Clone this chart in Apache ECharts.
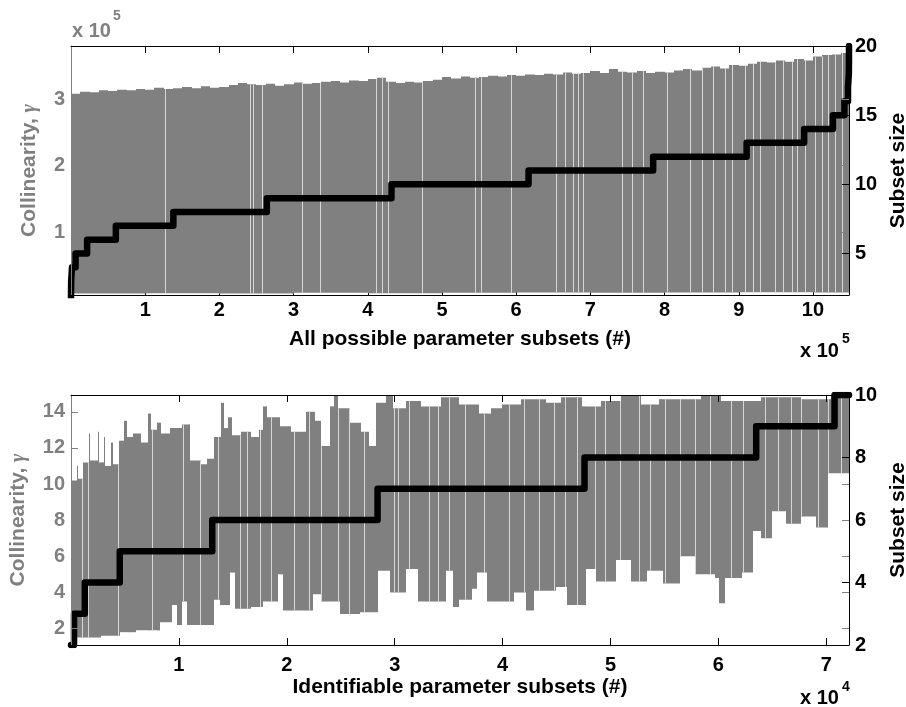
<!DOCTYPE html>
<html><head><meta charset="utf-8">
<script src="https://cdn.jsdelivr.net/npm/echarts@6/dist/echarts.min.js"></script>
<style>html,body{margin:0;padding:0;background:#fff}#c{width:906px;height:707px}</style>
</head><body><div id="c"></div><script>
// ---------------- DATA ----------------
// Top panel: all possible parameter subsets
const topXMax = 1048575;
const topXTickValues = [100000, 200000, 300000, 400000, 500000, 600000, 700000, 800000, 900000, 1000000];
const topXTickLabels = ['1','2','3','4','5','6','7','8','9','10'];
const topYLeftTickValues = [100000, 200000, 300000];
const topYLeftTickLabels = ['1','2','3'];
const topYRightTickValues = [5, 10, 15, 20];
const topYRightTickLabels = ['5','10','15','20'];
// upper envelope of collinearity (bins start)
const topEnvX = [0,12500,25000,37500,50000,62500,75000,87500,100000,112500,125000,137500,150000,162500,175000,187500,200000,212500,225000,237500,250000,262500,275000,287500,300000,312500,325000,337500,350000,362500,375000,387500,400000,412500,425000,437500,450000,462500,475000,487500,500000,512500,525000,537500,550000,562500,575000,587500,600000,612500,625000,637500,650000,662500,675000,687500,700000,712500,725000,737500,750000,762500,775000,787500,800000,812500,825000,837500,850000,862500,875000,887500,900000,912500,925000,937500,950000,962500,975000,987500,1000000,1012500,1025000,1037500];
const topUpper = [308000,311000,310000,313000,312000,314000,313000,315000,
 314000,317000,315000,316000,318000,316000,319000,317000,
 318000,321000,324000,322000,321000,323000,320000,322000,
 325000,323000,324000,326000,327000,325000,328000,327000,
 330000,332000,326000,324000,326000,325000,327000,329000,
 333000,331000,334000,332000,333000,335000,334000,336000,
 335000,337000,336000,338000,337000,340000,338000,339000,
 342000,339000,345000,341000,340000,342000,339000,341000,
 340000,343000,345000,343000,347000,349000,346000,351000,
 350000,353000,356000,355000,358000,356000,360000,358000,
 364000,366000,367000,369000];
const topLowerX = [0,100000,200000,300000,400000,500000,600000,700000,800000,900000,1000000];
const topLower = [7500,8000,7500,8500,8000,8500,9000,8500,9000,9500,9000];
const topGaps = [127000,241700,245300,257900,311500,336200,410400,418500,427900,472500,544000,552100,593500,654300,665400,676300,683000,689800,742000,755500,770700,802700,834100,850000,865200,881400,890400,908400,919200,928600,948800,959700,971400,978100,989300,1002800,1011900,1020800,1029800,1038900];
// subset size steps (start index of each size)
const topStepX = [0,20,210,1350,6195,21699,60459,137979,263949,431909,616665,784625,910595,988115,1026875,1042379,1047224,1048364,1048554,1048574,1048575];
const topStepSize = [1,2,3,4,5,6,7,8,9,10,11,12,13,14,15,16,17,18,19,20,20];

// Bottom panel: identifiable parameter subsets
const botXMax = 72100;
const botXTickValues = [10000,20000,30000,40000,50000,60000,70000];
const botXTickLabels = ['1','2','3','4','5','6','7'];
const botYLeftTickValues = [2,4,6,8,10,12,14];
const botYLeftTickLabels = ['2','4','6','8','10','12','14'];
const botYRightTickValues = [2,4,6,8,10];
const botYRightTickLabels = ['2','4','6','8','10'];
const botUpperX = [0,510,695,1158,1622,1807,2456,2641,3012,3197,3661,3846,4402,4958,5236,5792,6441,7090,7368,7924,8295,9221,10241,10982,12002,12558,13207,13855,14133,14504,14875,15709,16636,17377,17748,18119,19323,20343,21733,22567,23123,23957,24328,24699,25811,26830,27572,28221,29147,29796,31001,32391,34245,35913,37766,38879,39898,41659,43976,45366,47312,49073,50927,52780,54448,58341,60195,63902,67609,70389];
const botUpper = [10.2,11.0,10.3,11.2,12.8,11.3,12.9,11.2,12.6,11.0,12.3,11.1,12.4,13.5,12.6,12.8,12.3,13.9,13.0,13.4,12.8,13.1,13.3,11.3,11.1,11.4,12.6,14.5,13.1,13.7,12.7,12.9,12.6,13.0,14.3,13.7,13.2,12.9,14.0,13.5,12.1,14.3,14.9,14.2,13.4,12.9,12.1,14.5,14.9,14.2,14.6,14.3,14.8,14.4,13.9,14.2,14.4,14.7,14.5,14.8,14.3,14.6,14.9,14.4,14.7,14.9,14.6,14.8,14.7,14.9];
const botLowerX = [0,510,2734,4495,5978,8202,9314,9778,10241,10704,13207,13763,14690,15153,16636,17748,19138,19601,22382,23123,24884,26738,28406,29518,31001,32113,34708,35357,35913,37118,37581,38508,41010,42122,42864,44903,45922,47683,48610,50463,51854,53336,54819,56395,57785,59639,60009,60565,62141,63160,63902,64921,66219,67609,69000,70112];
const botLower = [1.2,1.5,1.6,1.8,1.9,2.35,3.3,2.2,3.5,2.2,3.6,3.3,5.1,3.1,3.2,3.5,5.0,3.0,3.9,3.5,2.8,2.9,5.2,4.0,5.3,3.5,5.2,3.2,3.6,4.2,5.1,3.5,4.0,3.0,4.1,4.3,3.3,5.3,4.6,5.8,4.6,5.2,4.5,6.0,5.0,4.8,3.4,4.8,5.1,7.4,7.0,8.5,7.8,8.2,7.6,10.6];
const botGaps = [1038,1594,4374,7461,10399,11909,13642,15616,16265,17470,18489,20686,22076,23151,24699,25783,27173,29954,30260,31344,33198,33967,35051,36534,38230,40547,41937,43327,44717,45802,46877,48582,49509,50899,52595,53680,55005,56395,57785,59175,61186,62262,64273,65505,66747,67674,69212,70139,71381];
const botStepX = [0,280,1280,4520,13090,28410,47590,63500,70760,72100];
const botStepSize = [2,3,4,5,6,7,8,9,10,10];

// ---------------- HELPERS ----------------
function lookup(xs, vs, x) { let v = vs[0]; for (let i = 0; i < xs.length; i++) { if (xs[i] <= x) v = vs[i]; else break; } return v; }
function bandTable(ux, uv, lx, lv, xmax) {
  const edges = Array.from(new Set(ux.concat(lx))).sort((a,b)=>a-b);
  edges.push(xmax);
  const rows = [];
  for (let i = 0; i < edges.length - 1; i++) {
    rows.push([edges[i], edges[i+1], lookup(lx, lv, edges[i]), lookup(ux, uv, edges[i])]);
  }
  return rows;
}
function gapTable(gx, ux, uv, lx, lv) { return gx.map(x => [x, lookup(lx, lv, x), lookup(ux, uv, x)]); }
function zip(a, b) { return a.map((v, i) => [v, b[i]]); }

const GRAY = '#808080';
const FONT = "'Liberation Sans', Arial, Helvetica, sans-serif";
const tickFont = { fontFamily: FONT, fontWeight: 'bold', fontSize: 20 };
const nameFont = { fontFamily: FONT, fontWeight: 'bold', fontSize: 21 };

function renderBand(params, api) {
  const p0 = api.coord([api.value(0), api.value(3)]);
  const p1 = api.coord([api.value(1), api.value(2)]);
  const cs = params.coordSys;
  const x0 = Math.max(Math.round(p0[0]), cs.x);
  const x1 = Math.min(Math.round(p1[0]), cs.x + cs.width);
  const y0 = Math.max(p0[1], cs.y);
  const y1 = Math.min(p1[1], cs.y + cs.height);
  if (x1 <= x0 || y1 <= y0) return null;
  return { type: 'rect', shape: { x: x0, y: y0, width: x1 - x0, height: y1 - y0 }, style: { fill: GRAY } };
}
function renderGap(params, api) {
  const p0 = api.coord([api.value(0), api.value(1)]);
  const p1 = api.coord([api.value(0), api.value(2)]);
  const x = Math.round(p0[0]) + 0.5;
  return { type: 'line', shape: { x1: x, y1: p0[1], x2: x, y2: p1[1] }, style: { stroke: '#d6d6d6', lineWidth: 1 } };
}
function labelFrom(values, labels) { return v => { const i = values.indexOf(v); return i >= 0 ? labels[i] : ''; }; }

const noSplit = { show: false };
const chart = echarts.init(document.getElementById('c'), null, { renderer: 'canvas' });
chart.setOption({
  animation: false,
  backgroundColor: '#fff',
  grid: [
    { left: 71, top: 46, width: 778, height: 249, containLabel: false, outerBoundsMode: 'none' },
    { left: 71, top: 395, width: 778, height: 250, containLabel: false, outerBoundsMode: 'none' }
  ],
  xAxis: [
    { gridIndex: 0, type: 'value', position: 'bottom', min: 0, max: topXMax, z: 0,
      axisLine: { show: false, onZero: false },
      axisTick: { inside: true, length: 7, lineStyle: { color: '#000' }, customValues: topXTickValues },
      axisLabel: { customValues: topXTickValues, formatter: labelFrom(topXTickValues, topXTickLabels), color: '#000', margin: 5, ...tickFont },
      splitLine: noSplit,
      name: 'All possible parameter subsets (#)', nameLocation: 'middle', nameGap: 34,
      nameTextStyle: { color: '#000', ...nameFont } },
    { gridIndex: 0, type: 'value', position: 'top', min: 0, max: topXMax, z: 12,
      axisLine: { show: true, onZero: false, lineStyle: { color: '#000', width: 1 } },
      axisTick: { inside: true, length: 7, lineStyle: { color: '#000' }, customValues: topXTickValues },
      axisLabel: { show: false }, splitLine: noSplit },
    { gridIndex: 0, type: 'value', position: 'bottom', min: 0, max: topXMax, z: 12,
      axisLine: { show: true, onZero: false, lineStyle: { color: '#000', width: 1 } },
      axisTick: { show: false }, axisLabel: { show: false }, splitLine: noSplit },
    { gridIndex: 1, type: 'value', position: 'bottom', min: 0, max: botXMax, z: 12,
      axisLine: { show: true, onZero: false, lineStyle: { color: '#000', width: 1 } },
      axisTick: { inside: true, length: 7, lineStyle: { color: '#000' }, customValues: botXTickValues },
      axisLabel: { customValues: botXTickValues, formatter: labelFrom(botXTickValues, botXTickLabels), color: '#000', margin: 10, ...tickFont },
      splitLine: noSplit,
      name: 'Identifiable parameter subsets (#)', nameLocation: 'middle', nameGap: 32,
      nameTextStyle: { color: '#000', ...nameFont } },
    { gridIndex: 1, type: 'value', position: 'top', min: 0, max: botXMax, z: 12,
      axisLine: { show: true, onZero: false, lineStyle: { color: '#000', width: 1 } },
      axisTick: { inside: true, length: 7, lineStyle: { color: '#000' }, customValues: botXTickValues },
      axisLabel: { show: false }, splitLine: noSplit }
  ],
  yAxis: [
    { gridIndex: 0, type: 'value', position: 'left', min: 5260, max: 379700, z: 12,
      axisLine: { show: true, onZero: false, lineStyle: { color: GRAY, width: 1 } },
      axisTick: { inside: true, length: 7, lineStyle: { color: GRAY }, customValues: topYLeftTickValues },
      axisLabel: { customValues: topYLeftTickValues, formatter: labelFrom(topYLeftTickValues, topYLeftTickLabels), color: GRAY, margin: 6, ...tickFont },
      splitLine: noSplit,
      name: 'Collinearity, {g|γ}', nameLocation: 'middle', nameGap: 31, nameRotate: 90,
      nameTextStyle: { color: GRAY, ...nameFont, rich: { g: { fontFamily: "'Liberation Serif', serif", fontStyle: 'italic', fontSize: 20, color: GRAY } } } },
    { gridIndex: 0, type: 'value', position: 'right', min: 2, max: 20, z: 12,
      axisLine: { show: true, onZero: false, lineStyle: { color: '#000', width: 1 } },
      axisTick: { inside: true, length: 7, lineStyle: { color: '#000' }, customValues: topYRightTickValues },
      axisLabel: { customValues: topYRightTickValues, formatter: labelFrom(topYRightTickValues, topYRightTickLabels), color: '#000', margin: 6, ...tickFont },
      splitLine: noSplit,
      name: 'Subset size', nameLocation: 'middle', nameGap: 33, nameRotate: 90,
      nameTextStyle: { color: '#000', ...nameFont } },
    { gridIndex: 0, type: 'value', position: 'right', min: 5260, max: 379700, z: 12,
      axisLine: { show: false, onZero: false },
      axisTick: { inside: true, length: 7, lineStyle: { color: GRAY }, customValues: topYLeftTickValues },
      axisLabel: { show: false }, splitLine: noSplit },
    { gridIndex: 1, type: 'value', position: 'left', min: 1.09, max: 14.93, z: 12,
      axisLine: { show: true, onZero: false, lineStyle: { color: GRAY, width: 1 } },
      axisTick: { inside: true, length: 7, lineStyle: { color: GRAY }, customValues: botYLeftTickValues },
      axisLabel: { customValues: botYLeftTickValues, formatter: labelFrom(botYLeftTickValues, botYLeftTickLabels), color: GRAY, margin: 6, ...tickFont },
      splitLine: noSplit,
      name: 'Collinearity, {g|γ}', nameLocation: 'middle', nameGap: 42, nameRotate: 90,
      nameTextStyle: { color: GRAY, ...nameFont, rich: { g: { fontFamily: "'Liberation Serif', serif", fontStyle: 'italic', fontSize: 20, color: GRAY } } } },
    { gridIndex: 1, type: 'value', position: 'right', min: 2, max: 10, z: 12,
      axisLine: { show: true, onZero: false, lineStyle: { color: '#000', width: 1 } },
      axisTick: { inside: true, length: 7, lineStyle: { color: '#000' }, customValues: botYRightTickValues },
      axisLabel: { customValues: botYRightTickValues, formatter: labelFrom(botYRightTickValues, botYRightTickLabels), color: '#000', margin: 6, ...tickFont },
      splitLine: noSplit,
      name: 'Subset size', nameLocation: 'middle', nameGap: 33, nameRotate: 90,
      nameTextStyle: { color: '#000', ...nameFont } },
    { gridIndex: 1, type: 'value', position: 'right', min: 1.09, max: 14.93, z: 12,
      axisLine: { show: false, onZero: false },
      axisTick: { inside: true, length: 7, lineStyle: { color: GRAY }, customValues: botYLeftTickValues },
      axisLabel: { show: false }, splitLine: noSplit }
  ],
  series: [
    { type: 'custom', name: 'Collinearity (all)', xAxisIndex: 0, yAxisIndex: 0, z: 2, silent: true,
      renderItem: renderBand, encode: { x: [0, 1], y: [2, 3] },
      data: bandTable(topEnvX, topUpper, topLowerX, topLower, topXMax) },
    { type: 'custom', name: 'gaps (all)', xAxisIndex: 0, yAxisIndex: 0, z: 3, silent: true,
      renderItem: renderGap, encode: { x: 0, y: [1, 2] },
      data: gapTable(topGaps, topEnvX, topUpper, topLowerX, topLower) },
    { type: 'line', name: 'Subset size (all)', xAxisIndex: 0, yAxisIndex: 1, z: 5, step: 'end', symbol: 'none', clip: true, silent: true,
      lineStyle: { color: '#000', width: 6.5, cap: 'round', join: 'round' },
      data: zip(topStepX, topStepSize) },
    { type: 'custom', name: 'Collinearity (identifiable)', xAxisIndex: 3, yAxisIndex: 3, z: 2, silent: true,
      renderItem: renderBand, encode: { x: [0, 1], y: [2, 3] },
      data: bandTable(botUpperX, botUpper, botLowerX, botLower, botXMax) },
    { type: 'custom', name: 'gaps (identifiable)', xAxisIndex: 3, yAxisIndex: 3, z: 3, silent: true,
      renderItem: renderGap, encode: { x: 0, y: [1, 2] },
      data: gapTable(botGaps, botUpperX, botUpper, botLowerX, botLower) },
    { type: 'line', name: 'Subset size (identifiable)', xAxisIndex: 3, yAxisIndex: 4, z: 5, step: 'end', symbol: 'none', clip: true, silent: true,
      lineStyle: { color: '#000', width: 6.5, cap: 'round', join: 'round' },
      data: zip(botStepX, botStepSize) }
  ],
  graphic: [
    { type: 'text', left: 72, top: 21, style: { text: 'x 10', fill: GRAY, fontFamily: FONT, fontWeight: 'bold', fontSize: 20 } },
    { type: 'text', left: 113, top: 9, style: { text: '5', fill: GRAY, fontFamily: FONT, fontWeight: 'bold', fontSize: 14 } },
    { type: 'text', left: 800, top: 341, style: { text: 'x 10', fill: '#000', fontFamily: FONT, fontWeight: 'bold', fontSize: 20 } },
    { type: 'text', left: 842, top: 332, style: { text: '5', fill: '#000', fontFamily: FONT, fontWeight: 'bold', fontSize: 14 } },
    { type: 'text', left: 800, top: 688, style: { text: 'x 10', fill: '#000', fontFamily: FONT, fontWeight: 'bold', fontSize: 20 } },
    { type: 'text', left: 842, top: 680, style: { text: '4', fill: '#000', fontFamily: FONT, fontWeight: 'bold', fontSize: 14 } }
  ]
});
</script></body></html>
